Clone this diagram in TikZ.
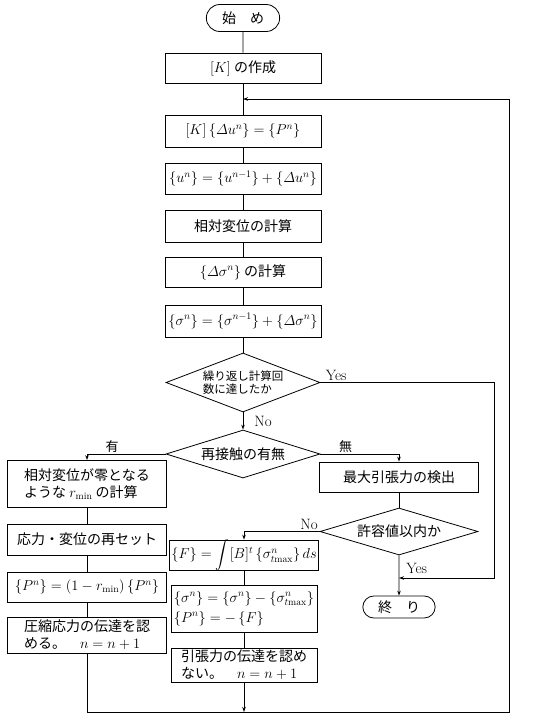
\documentclass[tikz,border=0pt]{standalone}
\usepackage{amsmath,amssymb}
\usepackage{fontspec}
\newfontfamily\jpfont{Noto Sans CJK JP}
\usepackage{tikz}
\usetikzlibrary{arrows.meta,shapes.geometric,shapes.misc,calc}

\begin{document}
\begin{tikzpicture}[x=1pt, y=-1pt, >={Stealth[length=5pt,width=3.5pt]}, line width=0.8pt,
    proc/.style={draw, rectangle, inner sep=2pt, font=\jpfont\fontsize{14}{17}\selectfont},
    main/.style={proc, minimum width=156pt, minimum height=31pt},
    side/.style={proc, minimum width=159pt},
    mid/.style={proc, minimum width=146pt},
    term/.style={draw, rounded rectangle, minimum width=80pt, minimum height=27pt, font=\jpfont\fontsize{14}{17}\selectfont},
    decide/.style={draw, diamond, inner sep=0pt, font=\jpfont\fontsize{14}{17}\selectfont},
    lbl/.style={font=\fontsize{15}{17}\selectfont, inner sep=1pt},
    jlbl/.style={font=\jpfont\fontsize{13}{15}\selectfont, inner sep=1pt}]
    \useasboundingbox (0,0) rectangle (534,720);

    % main column
    \node[term] (start) at (243,18) {始\quad め};
    \node[main, minimum height=30pt] (mk) at (243,68) {$[K]$ の作成};
    \node[main, minimum height=32pt] (solve) at (243,131) {$[K]\,\{\varDelta u^n\} = \{P^n\}$};
    \node[main] (upd) at (243,178.5) {$\{u^n\} = \{u^{n-1}\} + \{\varDelta u^n\}$};
    \node[main, minimum height=32pt] (rel) at (243,226) {相対変位の計算};
    \node[main, minimum height=30pt] (dsig) at (243,272) {$\{\varDelta\sigma^n\}$ の計算};
    \node[main, minimum height=32pt] (sig) at (243,321) {$\{\sigma^n\} = \{\sigma^{n-1}\} + \{\varDelta\sigma^n\}$};
    \node[decide, minimum width=154pt, minimum height=59pt, aspect=2.6, align=left,
        font=\jpfont\fontsize{11.5}{13.5}\selectfont] (rep) at (243,382.5) {繰り返し計算回\\数に達したか};
    \node[decide, minimum width=154pt, minimum height=48pt, aspect=3.2] (cont) at (243,454) {再接触の有無};

    % left column
    \node[side, minimum height=47pt, align=left] (rmin) at (87,484) {相対変位が零となる\\ような $r_{\mathrm{min}}$ の計算};
    \node[side, minimum height=31pt] (reset) at (87,539.5) {応力・変位の再セット};
    \node[side, minimum height=30pt] (pn) at (87,587) {$\{P^n\} = (1-r_{\mathrm{min}})\,\{P^n\}$};
    \node[side, minimum height=36pt, align=left] (comp) at (87,635) {圧縮応力の伝達を認\\める。\quad $n=n+1$};

    % right column
    \node[main, minimum width=159pt, minimum height=30pt] (maxt) at (399,477) {最大引張力の検出};
    \node[decide, minimum width=158pt, minimum height=47pt, aspect=3.4] (allow) at (399,531.5) {許容値以内か};
    \node[term, minimum width=79pt, minimum height=22pt] (stop) at (399,607) {終\quad り};

    % middle column
    \node[mid, minimum height=30pt] (force) at (244,555) {$\{F\} = {\smash{\displaystyle\int}} [B]^t\,\{\sigma^n_{t\mathrm{max}}\}\,ds$};
    \node[mid, minimum height=47pt, align=left] (upds) at (244,608.5) {$\{\sigma^n\} = \{\sigma^n\} - \{\sigma^n_{t\mathrm{max}}\}$\\[3pt]$\{P^n\} = -\,\{F\}$};
    \node[mid, minimum height=32pt, align=left] (tens) at (244,665) {引張力の伝達を認め\\ない。\quad $n=n+1$};

    \coordinate (join) at (243,99);
    \coordinate (yturn) at (494,578);
    \coordinate (loop) at (509,712);

    \foreach \a/\b in {start/mk, mk/solve, solve/upd, upd/rel, rel/dsig, dsig/sig, sig/rep,
        rmin/reset, reset/pn, pn/comp, maxt/allow, force/upds, upds/tens}
        \draw (\a) -- (\b);

    \draw[->] (rep) -- (cont) node[lbl, midway, right, xshift=10pt] {No};
    \draw[->] (rep.east) node[lbl, above right, xshift=4pt] {Yes} -| (yturn) -- (yturn -| stop);
    \draw[->] (cont.west) -| (rmin) node[jlbl, pos=0.34, above] {有};
    \draw[->] (cont.east) -| (maxt) node[jlbl, pos=0.16, above] {無};
    \draw[->] (allow.west) -| (force) node[lbl, pos=0.07, above] {No};
    \draw[->] (allow) -- (stop) node[lbl, pos=0.32, right, xshift=6pt] {Yes};
    \draw[->] (tens) -- (tens |- loop);

    % back to the top
    \draw[->] (comp) -- (comp |- loop) -- (loop) -- (loop |- join) -- (join);
\end{tikzpicture}
\end{document}
